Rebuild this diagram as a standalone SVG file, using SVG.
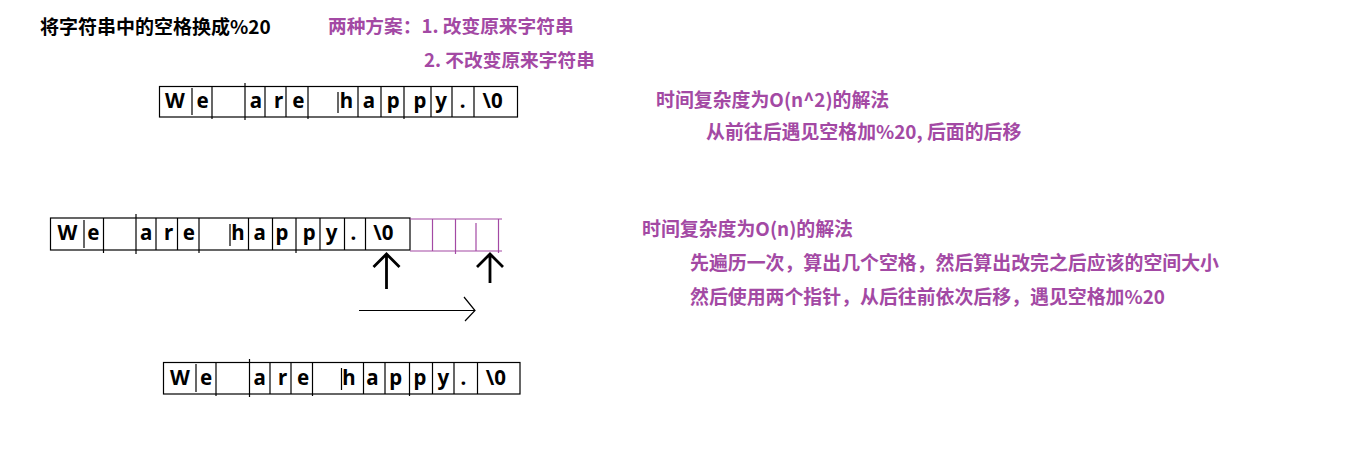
<svg xmlns="http://www.w3.org/2000/svg" width="1366" height="451" viewBox="0 0 1366 451">
<style>
.bg{fill:#ffffff}
.cell{fill:none;stroke:#000;stroke-width:1.2}
.div{stroke:#000;stroke-width:1.2}
.pcell{fill:none;stroke:#a349a4;stroke-width:1.2}
.pdiv{stroke:#a349a4;stroke-width:1.2}
.ch{font-family:"Noto Sans","Open Sans",sans-serif;font-weight:bold;font-size:20.5px;fill:#000;text-anchor:middle}
.title{font-family:"Noto Sans CJK SC",sans-serif;font-weight:bold;font-size:19px;fill:#000}
.note{font-family:"Noto Sans CJK SC",sans-serif;font-weight:bold;font-size:18.7px;fill:#a349a4}
.note2{font-family:"Noto Sans CJK SC",sans-serif;font-weight:bold;font-size:18.9px;fill:#a349a4}
.bigarrow{stroke:#000;stroke-width:2.8;fill:none}
.thin{stroke:#000;stroke-width:1.2;fill:none}
</style>
<rect class="bg" x="0" y="0" width="1366" height="451"/>

<g id="title"><text class="title" x="40" y="34">将字符串中的空格换成%20</text></g>
<g id="plans">
<text class="note" x="328" y="33">两种方案：1. 改变原来字符串</text>
<text class="note" x="424" y="67">2. 不改变原来字符串</text>
</g>
<g id="method1">
<text class="note2" x="656" y="107">时间复杂度为O(n^2)的解法</text>
<text class="note2" x="706" y="139">从前往后遇见空格加%20, 后面的后移</text>
</g>
<g id="method2">
<text class="note2" x="642" y="236">时间复杂度为O(n)的解法</text>
<text class="note2" x="690" y="270">先遍历一次，算出几个空格，然后算出改完之后应该的空间大小</text>
<text class="note2" x="690" y="304">然后使用两个指针，从后往前依次后移，遇见空格加%20</text>
</g>

<g id="array1">
<rect class="cell" x="159.5" y="86.5" width="358" height="30.5"/>
<line class="div" x1="192" y1="88" x2="192" y2="115"/>
<line class="div" x1="212" y1="86" x2="212" y2="119"/>
<line class="div" x1="245" y1="83" x2="245" y2="120"/>
<line class="div" x1="265" y1="86" x2="265" y2="117"/>
<line class="div" x1="286" y1="86" x2="286" y2="117"/>
<line class="div" x1="308" y1="86" x2="308" y2="119"/>
<line class="div" x1="338" y1="92" x2="338" y2="113"/>
<line class="div" x1="358" y1="86" x2="358" y2="117"/>
<line class="div" x1="381" y1="86" x2="381" y2="117"/>
<line class="div" x1="404" y1="86" x2="404" y2="119"/>
<line class="div" x1="431" y1="86" x2="431" y2="117"/>
<line class="div" x1="452" y1="86" x2="452" y2="117"/>
<line class="div" x1="474" y1="86" x2="474" y2="117"/>
<text class="ch" x="175" y="108">W</text>
<text class="ch" x="202.7" y="108">e</text>
<text class="ch" x="256" y="108">a</text>
<text class="ch" x="278.5" y="108">r</text>
<text class="ch" x="298.3" y="108">e</text>
<text class="ch" x="346.5" y="108">h</text>
<text class="ch" x="369" y="108">a</text>
<text class="ch" x="393.3" y="108">p</text>
<text class="ch" x="420" y="108">p</text>
<text class="ch" x="441" y="108">y</text>
<text class="ch" x="462.7" y="108">.</text>
<text class="ch" x="492.5" y="108">\0</text>
</g>

<g id="array2">
<rect class="cell" x="50.5" y="218" width="359.5" height="32"/>
<line class="div" x1="84" y1="220" x2="84" y2="248"/>
<line class="div" x1="103.5" y1="218" x2="103.5" y2="253"/>
<line class="div" x1="136" y1="214" x2="136" y2="254"/>
<line class="div" x1="156" y1="218" x2="156" y2="250"/>
<line class="div" x1="177.5" y1="218" x2="177.5" y2="250"/>
<line class="div" x1="199" y1="218" x2="199" y2="253"/>
<line class="div" x1="230" y1="224" x2="230" y2="246"/>
<line class="div" x1="248.5" y1="218" x2="248.5" y2="250"/>
<line class="div" x1="272.5" y1="218" x2="272.5" y2="250"/>
<line class="div" x1="296" y1="218" x2="296" y2="253"/>
<line class="div" x1="320" y1="218" x2="320" y2="250"/>
<line class="div" x1="344.5" y1="218" x2="344.5" y2="250"/>
<line class="div" x1="365.5" y1="218" x2="365.5" y2="250"/>
<text class="ch" x="67.5" y="239.5">W</text>
<text class="ch" x="93.3" y="239.5">e</text>
<text class="ch" x="146.2" y="239.5">a</text>
<text class="ch" x="168.5" y="239.5">r</text>
<text class="ch" x="188.8" y="239.5">e</text>
<text class="ch" x="238" y="239.5">h</text>
<text class="ch" x="259.7" y="239.5">a</text>
<text class="ch" x="282" y="239.5">p</text>
<text class="ch" x="309.3" y="239.5">p</text>
<text class="ch" x="331.7" y="239.5">y</text>
<text class="ch" x="353.3" y="239.5">.</text>
<text class="ch" x="383.3" y="239.5">\0</text>
</g>

<g id="extra-space">
<polyline class="pcell" points="410,219 502,219"/>
<polyline class="pcell" points="410,251 502,251"/>
<line class="pdiv" x1="432.5" y1="219" x2="432.5" y2="251"/>
<line class="pdiv" x1="455.5" y1="219" x2="455.5" y2="254"/>
<line class="pdiv" x1="476" y1="223" x2="476" y2="251"/>
<line class="pdiv" x1="498.5" y1="219" x2="498.5" y2="253"/>
</g>

<g id="array3">
<rect class="cell" x="163.5" y="362.5" width="356.5" height="31.5"/>
<line class="div" x1="196" y1="364" x2="196" y2="392"/>
<line class="div" x1="216" y1="362" x2="216" y2="396"/>
<line class="div" x1="249.5" y1="359" x2="249.5" y2="397"/>
<line class="div" x1="270" y1="362" x2="270" y2="394"/>
<line class="div" x1="291" y1="362" x2="291" y2="394"/>
<line class="div" x1="312.5" y1="362" x2="312.5" y2="396"/>
<line class="div" x1="341.5" y1="368" x2="341.5" y2="390"/>
<line class="div" x1="363.5" y1="362" x2="363.5" y2="394"/>
<line class="div" x1="385" y1="362" x2="385" y2="394"/>
<line class="div" x1="409.5" y1="362" x2="409.5" y2="396"/>
<line class="div" x1="432.5" y1="362" x2="432.5" y2="394"/>
<line class="div" x1="454" y1="362" x2="454" y2="394"/>
<line class="div" x1="477.5" y1="362" x2="477.5" y2="394"/>
<text class="ch" x="180" y="385.3">W</text>
<text class="ch" x="206" y="385.3">e</text>
<text class="ch" x="259.7" y="385.3">a</text>
<text class="ch" x="282.5" y="385.3">r</text>
<text class="ch" x="303" y="385.3">e</text>
<text class="ch" x="349" y="385.3">h</text>
<text class="ch" x="372.5" y="385.3">a</text>
<text class="ch" x="395.8" y="385.3">p</text>
<text class="ch" x="420" y="385.3">p</text>
<text class="ch" x="443.3" y="385.3">y</text>
<text class="ch" x="463.3" y="385.3">.</text>
<text class="ch" x="495.8" y="385.3">\0</text>
</g>

<g id="connectors">
<path class="bigarrow" d="M386.5,254 V289 M373.5,267 L386.5,254 L399.5,267"/>
<path class="bigarrow" d="M490,254 V283 M477,267 L490,254 L503,267"/>
<path class="thin" d="M359,310.5 H475 M464,297 L475,310.5 L465,321"/>
</g>
</svg>
